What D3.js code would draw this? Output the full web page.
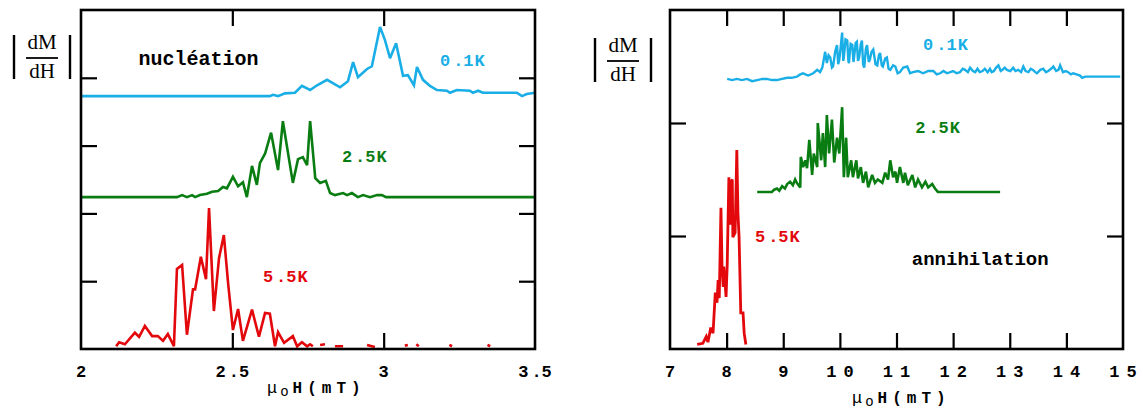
<!DOCTYPE html>
<html><head><meta charset="utf-8">
<script src="https://cdn.jsdelivr.net/npm/d3@7"></script>
<style>body{margin:0;background:#fff}svg{display:block}</style>
</head><body>
<svg id="c" width="1143" height="409"></svg>
<script>
// ---------- data ----------
const seriesLabels = ["0.1K", "2.5K", "5.5K"];
const seriesColors = ["#1aaee6", "#0a7d12", "#e2080c"];
const panelTitles = ["nucléation", "annihilation"];
const leftTickValues = [2, 2.5, 3, 3.5];
const leftTickLabels = ["2", "2.5", "3", "3.5"];
const rightTickValues = [7, 8, 9, 10, 11, 12, 13, 14, 15];
const rightTickLabels = ["7", "8", "9", "10", "11", "12", "13", "14", "15"];

// nucleation (left) — [mu0H (mT), |dM/dH| offset units]
const nucCyan = [[2.000,3.73],[2.624,3.73],[2.634,3.75],[2.651,3.73],[2.674,3.77],[2.707,3.78],[2.730,3.88],[2.757,3.82],[2.780,3.89],[2.813,3.97],[2.856,3.86],[2.882,3.95],[2.899,4.23],[2.915,4.01],[2.945,4.13],[2.961,4.17],[2.988,4.75],[3.004,4.56],[3.021,4.29],[3.041,4.51],[3.064,4.03],[3.080,4.04],[3.100,3.89],[3.110,4.16],[3.130,3.97],[3.153,3.88],[3.176,3.82],[3.209,3.81],[3.219,3.78],[3.242,3.82],[3.285,3.81],[3.295,3.78],[3.312,3.81],[3.328,3.78],[3.440,3.78],[3.457,3.73],[3.473,3.76],[3.500,3.78]];
const nucGreen = [[2.000,2.24],[2.317,2.24],[2.334,2.27],[2.350,2.24],[2.367,2.27],[2.377,2.24],[2.393,2.27],[2.416,2.29],[2.433,2.32],[2.453,2.33],[2.469,2.39],[2.482,2.37],[2.502,2.54],[2.519,2.40],[2.535,2.46],[2.548,2.24],[2.565,2.70],[2.581,2.42],[2.591,2.74],[2.608,2.88],[2.628,3.19],[2.651,2.64],[2.667,3.36],[2.700,2.45],[2.717,2.80],[2.733,2.83],[2.747,2.71],[2.757,3.36],[2.774,2.52],[2.790,2.45],[2.809,2.48],[2.823,2.30],[2.839,2.27],[2.866,2.30],[2.879,2.27],[2.895,2.30],[2.915,2.24],[2.932,2.27],[2.955,2.24],[2.978,2.27],[2.994,2.27],[3.008,2.24],[3.500,2.24]];
const nucRed = [[2.116,0.04],[2.126,0.10],[2.145,0.07],[2.178,0.24],[2.192,0.18],[2.211,0.34],[2.235,0.19],[2.254,0.19],[2.271,0.12],[2.287,0.22],[2.307,0.04],[2.317,1.18],[2.334,1.24],[2.350,0.21],[2.370,0.88],[2.377,0.88],[2.396,1.36],[2.413,1.03],[2.423,2.08],[2.439,0.56],[2.456,1.34],[2.472,1.68],[2.486,0.97],[2.502,0.28],[2.519,0.59],[2.535,0.12],[2.565,0.58],[2.588,0.18],[2.608,0.53],[2.624,0.52],[2.641,0.04],[2.651,0.25],[2.671,0.09],[2.700,0.19],[2.714,0.04],[2.730,0.10],[2.747,0.04],[2.757,0.07],[2.766,0.04],
  [2.775,null],[2.790,0.06],[2.806,0.07],[2.820,null],[2.839,0.04],[2.866,0.04],[2.900,null],[2.945,0.06],[2.971,0.03],[3.000,null],[3.070,0.05],[3.080,0.06],[3.095,null],[3.108,0.07],[3.116,0.04],[3.150,null],[3.217,0.06],[3.226,0.04],[3.300,null],[3.343,0.06],[3.352,0.04]];

// annihilation (right)
const annCyan = [[8.01,2.39],[8.10,2.38],[8.18,2.39],[8.27,2.38],[8.36,2.39],[8.45,2.37],[8.54,2.38],[8.63,2.39],[8.71,2.39],[8.80,2.38],[8.89,2.38],[8.98,2.39],[9.07,2.40],[9.15,2.40],[9.24,2.41],[9.30,2.43],[9.35,2.44],[9.44,2.42],[9.53,2.44],[9.60,2.47],[9.65,2.45],[9.69,2.49],[9.74,2.63],[9.77,2.53],[9.80,2.60],[9.83,2.58],[9.86,2.49],[9.88,2.50],[9.92,2.64],[9.95,2.69],[9.97,2.52],[9.99,2.56],[10.02,2.70],[10.04,2.80],[10.06,2.55],[10.07,2.58],[10.10,2.74],[10.13,2.73],[10.15,2.55],[10.16,2.53],[10.19,2.70],[10.22,2.69],[10.24,2.54],[10.25,2.58],[10.28,2.71],[10.30,2.72],[10.32,2.55],[10.34,2.58],[10.37,2.70],[10.39,2.73],[10.41,2.52],[10.43,2.49],[10.46,2.66],[10.48,2.69],[10.51,2.54],[10.53,2.56],[10.56,2.63],[10.59,2.65],[10.63,2.52],[10.66,2.51],[10.69,2.60],[10.71,2.62],[10.74,2.51],[10.76,2.50],[10.80,2.57],[10.83,2.58],[10.86,2.48],[10.89,2.47],[10.94,2.51],[10.98,2.50],[11.02,2.44],[11.06,2.45],[11.12,2.49],[11.19,2.50],[11.24,2.44],[11.29,2.45],[11.38,2.46],[11.47,2.44],[11.56,2.46],[11.65,2.46],[11.71,2.43],[11.77,2.44],[11.83,2.46],[11.89,2.44],[11.95,2.45],[12.00,2.46],[12.06,2.44],[12.12,2.45],[12.17,2.48],[12.21,2.47],[12.26,2.45],[12.30,2.49],[12.35,2.46],[12.39,2.45],[12.43,2.48],[12.47,2.45],[12.52,2.46],[12.56,2.48],[12.61,2.45],[12.65,2.48],[12.68,2.45],[12.72,2.46],[12.76,2.49],[12.80,2.51],[12.84,2.46],[12.87,2.47],[12.91,2.49],[12.95,2.47],[13.01,2.46],[13.06,2.49],[13.10,2.46],[13.15,2.47],[13.20,2.45],[13.24,2.50],[13.28,2.46],[13.33,2.45],[13.37,2.48],[13.41,2.47],[13.45,2.45],[13.48,2.44],[13.54,2.47],[13.59,2.48],[13.64,2.45],[13.68,2.46],[13.73,2.48],[13.77,2.50],[13.82,2.46],[13.86,2.47],[13.89,2.51],[13.94,2.45],[13.99,2.46],[14.03,2.45],[14.08,2.43],[14.12,2.44],[14.18,2.43],[14.24,2.42],[14.28,2.40],[14.33,2.41],[14.95,2.41]];
const annGreen = [[8.54,1.39],[8.80,1.39],[8.84,1.41],[8.89,1.42],[8.93,1.40],[8.98,1.44],[9.03,1.42],[9.07,1.46],[9.12,1.48],[9.17,1.45],[9.21,1.50],[9.24,1.47],[9.30,1.43],[9.31,1.70],[9.35,1.61],[9.39,1.67],[9.42,1.60],[9.46,1.85],[9.51,1.54],[9.54,1.73],[9.60,1.61],[9.61,2.00],[9.67,1.67],[9.70,1.91],[9.74,1.61],[9.77,2.07],[9.81,1.73],[9.86,2.03],[9.90,1.65],[9.95,1.87],[9.99,1.73],[10.04,2.14],[10.07,1.52],[10.11,1.87],[10.14,1.52],[10.20,1.67],[10.23,1.52],[10.29,1.67],[10.32,1.51],[10.37,1.61],[10.41,1.47],[10.46,1.57],[10.50,1.43],[10.57,1.54],[10.62,1.47],[10.67,1.50],[10.75,1.47],[10.80,1.56],[10.85,1.50],[10.89,1.67],[10.94,1.52],[10.98,1.57],[11.01,1.47],[11.06,1.61],[11.12,1.47],[11.15,1.56],[11.20,1.45],[11.28,1.54],[11.33,1.43],[11.38,1.50],[11.45,1.43],[11.51,1.48],[11.56,1.43],[11.63,1.46],[11.68,1.42],[11.73,1.39],[12.83,1.39]];
const annRed = [[7.48,0.04],[7.58,0.05],[7.64,0.11],[7.67,0.06],[7.72,0.19],[7.76,0.14],[7.80,0.50],[7.83,0.41],[7.85,0.61],[7.87,0.45],[7.90,1.25],[7.92,0.70],[7.94,0.55],[7.95,0.73],[7.99,0.46],[8.01,0.74],[8.04,1.52],[8.06,1.10],[8.08,1.48],[8.10,1.50],[8.11,0.99],[8.15,1.03],[8.18,1.76],[8.20,1.20],[8.22,0.99],[8.25,0.32],[8.29,0.32],[8.31,0.14],[8.34,0.04]];

// ---------- drawing ----------
const svg = d3.select("#c");
const MONO = "'Liberation Mono', 'Courier New', monospace";

function gap(a, b) {
  const dig = c => /[0-9]/.test(c);
  if (dig(a) && dig(b)) return 7;
  if (dig(a) && b === ".") return 3;
  if (a === ".") return 0;
  if (dig(a) && /[A-Za-z]/.test(b)) return 1;
  return 0;
}
function spaced(g, str, x, y, size, color, anchor) {
  const t = g.append("text").attr("x", x).attr("y", y)
    .attr("font-family", MONO).attr("font-weight", "bold")
    .attr("font-size", size).attr("fill", color).attr("text-anchor", anchor);
  [...str].forEach((c, i) => {
    t.append("tspan").attr("dx", i ? gap(str[i - 1], c) : 0).text(c);
  });
  return t;
}

function panel(p) {
  const g = svg.append("g");
  const [x0, x1] = p.x.range();
  const [yb, yt] = p.y.range();
  const clip = svg.append("clipPath").attr("id", "clip" + p.id);
  clip.append("rect").attr("x", x0).attr("y", yt).attr("width", x1 - x0).attr("height", yb - yt);

  const line = d3.line().defined(d => d[1] !== null).x(d => p.x(d[0])).y(d => p.y(d[1]));
  p.series.forEach((s, i) => {
    g.append("path").attr("clip-path", `url(#clip${p.id})`)
      .attr("d", line(s)).attr("fill", "none").attr("stroke", seriesColors[i])
      .attr("stroke-width", p.lw[i]).attr("stroke-linejoin", "miter").attr("stroke-miterlimit", 3);
  });

  const styleAxis = sel => {
    sel.select(".domain").remove();
    sel.selectAll(".tick line").attr("stroke", "#000").attr("stroke-width", 2.2);
  };
  g.append("g").attr("transform", `translate(0,${yb})`)
    .call(d3.axisBottom(p.x).tickValues(p.xInner).tickSize(-16).tickFormat("")).call(styleAxis);
  g.append("g").attr("transform", `translate(0,${yt})`)
    .call(d3.axisTop(p.x).tickValues(p.xInner).tickSize(-16).tickFormat("")).call(styleAxis);
  g.append("g").attr("transform", `translate(${x0},0)`)
    .call(d3.axisLeft(p.y).tickValues(p.yInner).tickSize(-16).tickFormat("")).call(styleAxis);
  g.append("g").attr("transform", `translate(${x1},0)`)
    .call(d3.axisRight(p.y).tickValues(p.yInner).tickSize(-16).tickFormat("")).call(styleAxis);

  g.append("rect").attr("x", x0).attr("y", yt).attr("width", x1 - x0).attr("height", yb - yt)
    .attr("fill", "none").attr("stroke", "#000").attr("stroke-width", 2.6);

  p.tickValues.forEach((v, i) => spaced(g, p.tickLabels[i], p.x(v), yb + 28, 17, "#000", "middle"));

  // series labels
  p.labelPos.forEach((lp, i) => spaced(g, seriesLabels[i], p.x(lp[0]), p.y(lp[1]), 17, seriesColors[i], "start"));
  // panel title
  g.append("text").attr("x", p.x(p.titlePos[0])).attr("y", p.y(p.titlePos[1]))
    .attr("font-family", MONO).attr("font-weight", "bold").attr("font-size", p.titleSize)
    .attr("fill", "#000").text(p.title);

  // x-axis title  μoH(mT)
  const tt = g.append("text").attr("x", p.axTitle[0]).attr("y", p.axTitle[1])
    .attr("font-family", MONO).attr("fill", "#000");
  tt.append("tspan").attr("font-size", 17).attr("font-weight", "normal").text("μ");
  tt.append("tspan").attr("font-size", 14).attr("font-weight", "normal").attr("dy", 3).attr("dx", 3).text("o");
  tt.append("tspan").attr("font-size", 16).attr("font-weight", "bold").attr("dy", -3).attr("dx", 4)
    .attr("letter-spacing", 5).text("H(mT)");

  // y-axis label |dM/dH|
  const [cx, cy] = p.yLab;
  const ylab = svg.append("g").attr("font-family", "'Liberation Serif', 'Times New Roman', serif").attr("font-size", 21);
  ylab.append("text").attr("x", cx).attr("y", cy - 9).attr("text-anchor", "middle").text("dM");
  ylab.append("text").attr("x", cx).attr("y", cy + 20).attr("text-anchor", "middle").text("dH");
  ylab.append("line").attr("x1", cx - 16).attr("x2", cx + 16).attr("y1", cy).attr("y2", cy)
    .attr("stroke", "#000").attr("stroke-width", 1.8);
  [-28, 28].forEach(dx => ylab.append("line").attr("x1", cx + dx).attr("x2", cx + dx)
    .attr("y1", cy - 23).attr("y2", cy + 21).attr("stroke", "#000").attr("stroke-width", 2.4));
}

panel({
  id: "L",
  x: d3.scaleLinear([2, 3.5], [81, 535]),
  y: d3.scaleLinear([0, 5], [349, 10]),
  series: [nucCyan, nucGreen, nucRed],
  lw: [2.6, 2.6, 2.6],
  xInner: [2.5, 3], yInner: [1, 2, 3, 4],
  tickValues: leftTickValues, tickLabels: leftTickLabels,
  labelPos: [[3.186, 4.17], [2.862, 2.76], [2.601, 0.99]],
  title: panelTitles[0], titlePos: [2.19, 4.19], titleSize: 20,
  axTitle: [267, 393],
  yLab: [42, 58]
});
panel({
  id: "R",
  x: d3.scaleLinear([7, 15], [670, 1123]),
  y: d3.scaleLinear([0, 3], [349, 10]),
  series: [annCyan, annGreen, annRed],
  lw: [2.4, 2.6, 2.8],
  xInner: [8, 9, 10, 11, 12, 13, 14], yInner: [1, 2],
  tickValues: rightTickValues, tickLabels: rightTickLabels,
  labelPos: [[11.47, 2.65], [11.33, 1.91], [8.50, 0.95]],
  title: panelTitles[1], titlePos: [11.27, 0.74], titleSize: 19,
  axTitle: [852, 403],
  yLab: [623, 61]
});
</script>
</body></html>
